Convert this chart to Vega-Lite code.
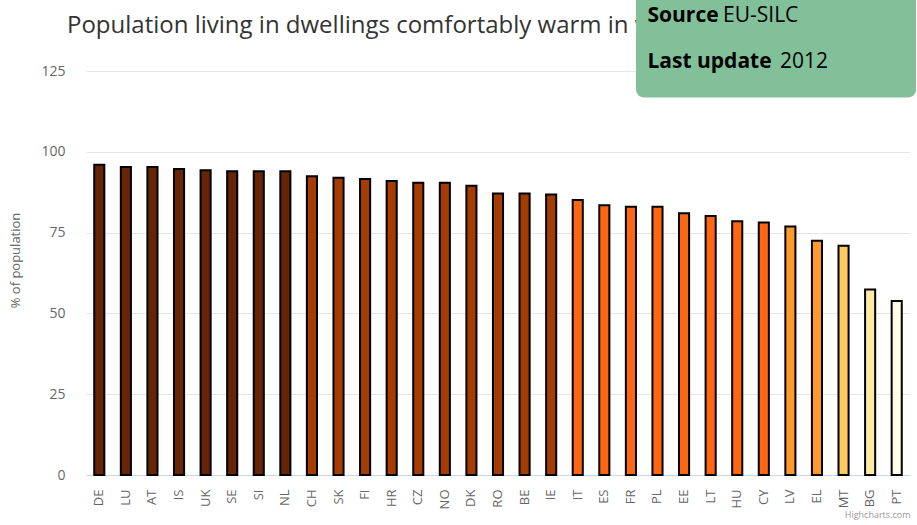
{
  "$schema": "https://vega.github.io/schema/vega-lite/v6.json",
  "autosize": {"type": "none"},
  "padding": {"left": 86, "top": 71, "right": 7, "bottom": 50},
  "width": 824,
  "height": 404,
  "background": "#ffffff",
  "config": {
    "font": "Open Sans",
    "view": {"stroke": null}
  },
  "datasets": {
    "info": [{"title": "Population living in dwellings comfortably warm in winter", "label1": "Source", "value1": "EU-SILC", "label2": "Last update", "value2": "2012"}]
  },
  "resolve": {"scale": {"x": "independent"}, "axis": {"x": "independent"}},
  "layer": [
    {
      "data": {
        "values": [
          {"country": "DE", "value": 96.0},
          {"country": "LU", "value": 95.3},
          {"country": "AT", "value": 95.3},
          {"country": "IS", "value": 94.7},
          {"country": "UK", "value": 94.3},
          {"country": "SE", "value": 94.0},
          {"country": "SI", "value": 94.0},
          {"country": "NL", "value": 94.0},
          {"country": "CH", "value": 92.4},
          {"country": "SK", "value": 92.0},
          {"country": "FI", "value": 91.6},
          {"country": "HR", "value": 91.0},
          {"country": "CZ", "value": 90.4},
          {"country": "NO", "value": 90.4},
          {"country": "DK", "value": 89.5},
          {"country": "RO", "value": 87.1},
          {"country": "BE", "value": 87.1},
          {"country": "IE", "value": 86.8},
          {"country": "IT", "value": 85.1},
          {"country": "ES", "value": 83.5},
          {"country": "FR", "value": 83.0},
          {"country": "PL", "value": 83.0},
          {"country": "EE", "value": 81.0},
          {"country": "LT", "value": 80.1},
          {"country": "HU", "value": 78.5},
          {"country": "CY", "value": 78.1},
          {"country": "LV", "value": 76.9},
          {"country": "EL", "value": 72.5},
          {"country": "MT", "value": 70.9},
          {"country": "BG", "value": 57.4},
          {"country": "PT", "value": 53.8}
        ]
      },
      "mark": {"type": "bar", "stroke": "#000000", "strokeWidth": 2},
      "encoding": {
        "x": {
          "field": "country",
          "type": "nominal",
          "sort": null,
          "scale": {"paddingInner": 0.62, "paddingOuter": 0.31},
          "axis": {
            "title": "Highcharts.com",
            "titleAnchor": "end",
            "titleColor": "#999999",
            "titleFontSize": 9,
            "titleFontWeight": "normal",
            "titlePadding": 2,
            "labelAngle": 270,
            "labelAlign": "right",
            "labelBaseline": "middle",
            "labelPadding": 14,
            "labelColor": "#666666",
            "labelFontSize": 13,
            "ticks": false,
            "domainColor": "#ccd6eb",
            "domainWidth": 1,
            "grid": false
          }
        },
        "y": {
          "field": "value",
          "type": "quantitative",
          "scale": {"domain": [0, 125], "nice": false},
          "axis": {
            "title": "% of population",
            "titleColor": "#666666",
            "titleFontSize": 13,
            "titleFontWeight": "normal",
            "titlePadding": 18,
            "titleY": 189,
            "values": [0, 25, 50, 75, 100, 125],
            "labelColor": "#666666",
            "labelFontSize": 14,
            "labelPadding": 21,
            "ticks": false,
            "domain": false,
            "grid": true,
            "gridColor": "#e6e6e6",
            "gridWidth": 1
          }
        },
        "color": {
          "field": "value",
          "type": "quantitative",
          "scale": {
            "type": "threshold",
            "domain": [55, 65, 72, 77.5, 86, 93],
            "range": ["#fffde3", "#fee9a5", "#fec960", "#fd9a2d", "#ff6611", "#a53c04", "#662506"]
          },
          "legend": null
        }
      }
    },
    {
      "data": {"name": "info"},
      "mark": {"type": "text", "font": "Open Sans", "fontSize": 24, "fontWeight": "normal", "color": "#333333", "align": "left", "baseline": "alphabetic", "clip": false},
      "encoding": {
        "x": {"datum": -0.02306, "type": "quantitative", "scale": {"domain": [0, 1], "nice": false, "zero": false}, "axis": null},
        "y": {"datum": 136.8, "type": "quantitative"},
        "text": {"field": "title"}
      }
    },
    {
      "data": {"name": "info"},
      "mark": {"type": "rect", "color": "#82c09a", "cornerRadius": 8, "clip": false},
      "encoding": {
        "x": {"datum": 0.6675, "type": "quantitative", "scale": {"domain": [0, 1], "nice": false, "zero": false}, "axis": null},
        "x2": {"datum": 1.0073},
        "y": {"datum": 116.8, "type": "quantitative"},
        "y2": {"datum": 150}
      }
    },
    {
      "data": {"name": "info"},
      "mark": {"type": "text", "font": "Open Sans", "fontSize": 21, "fontWeight": "bold", "color": "#000000", "align": "left", "baseline": "alphabetic"},
      "encoding": {
        "x": {"datum": 0.6814, "type": "quantitative", "scale": {"domain": [0, 1], "nice": false, "zero": false}, "axis": null},
        "y": {"datum": 140.2, "type": "quantitative"},
        "text": {"field": "label1"}
      }
    },
    {
      "data": {"name": "info"},
      "mark": {"type": "text", "font": "Open Sans", "fontSize": 21, "fontWeight": "normal", "color": "#000000", "align": "left", "baseline": "alphabetic"},
      "encoding": {
        "x": {"datum": 0.7731, "type": "quantitative", "scale": {"domain": [0, 1], "nice": false, "zero": false}, "axis": null},
        "y": {"datum": 140.2, "type": "quantitative"},
        "text": {"field": "value1"}
      }
    },
    {
      "data": {"name": "info"},
      "mark": {"type": "text", "font": "Open Sans", "fontSize": 21, "fontWeight": "bold", "color": "#000000", "align": "left", "baseline": "alphabetic"},
      "encoding": {
        "x": {"datum": 0.6814, "type": "quantitative", "scale": {"domain": [0, 1], "nice": false, "zero": false}, "axis": null},
        "y": {"datum": 125.9, "type": "quantitative"},
        "text": {"field": "label2"}
      }
    },
    {
      "data": {"name": "info"},
      "mark": {"type": "text", "font": "Open Sans", "fontSize": 21, "fontWeight": "normal", "color": "#000000", "align": "left", "baseline": "alphabetic"},
      "encoding": {
        "x": {"datum": 0.8422, "type": "quantitative", "scale": {"domain": [0, 1], "nice": false, "zero": false}, "axis": null},
        "y": {"datum": 125.9, "type": "quantitative"},
        "text": {"field": "value2"}
      }
    }
  ]
}
